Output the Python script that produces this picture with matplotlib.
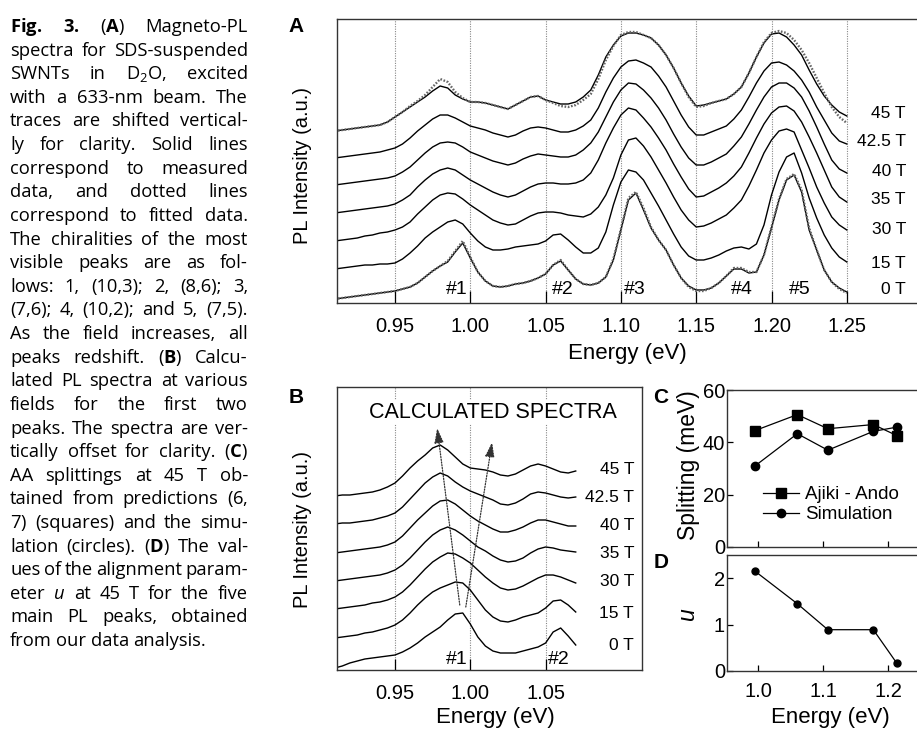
import numpy as np
import matplotlib
matplotlib.use('Agg')
import matplotlib.pyplot as plt

plt.rcParams['font.family'] = ['Liberation Sans', 'DejaVu Sans']
plt.rcParams['mathtext.fontset'] = 'custom'
plt.rcParams['mathtext.rm'] = 'Open Sans'
plt.rcParams['mathtext.it'] = 'Open Sans:italic'
plt.rcParams['mathtext.bf'] = 'Open Sans:bold'

# ---------------- data ----------------
# panel A: measured magneto-PL spectra (a.u., already shifted), energy grid in eV
energy_a = np.round(np.arange(0.910, 1.2501, 0.005), 3)
fields_a = ['45 T', '42.5 T', '40 T', '35 T', '30 T', '15 T', '0 T']
label_y_a = [190, 161, 132, 103, 74, 40, 13]

a_45T = [172,173,174,175,176,177,178,181,186, 191,196,201,206,212,217,215,208,204,
         201,201,200,198,196,194,198,202,206,207, 203,201,199,199,201,206,213,228,246,258,
         267,270,270,268,265,258,248,235,220,207, 197,198,200,202,204,209,216,230,246,260,
         269,270,266,258,248,233,219,207,198,191,187]
a_42T = [145,146,147,148,149,150,151,153,155, 159,165,172,178,184,188,188,185,181,
         177,175,173,170,168,166,168,172,175,176, 175,173,171,171,173,177,183,195,211,225,
         236,242,243,240,236,227,216,202,188,176, 168,168,171,174,177,184,193,206,220,232,
         240,241,238,232,223,211,196,183,170,162,159]
a_40T = [118,119,120,121,122,123,124,125,127, 131,136,143,150,156,160,161,160,156,
         151,148,145,142,140,138,140,144,147,149, 148,147,146,146,148,153,160,171,186,201,
         213,220,219,213,205,195,183,169,156,145, 138,138,141,145,149,157,166,179,193,206,
         216,220,220,215,206,192,176,159,143,134,130]
a_35T = [90,91,92,93,94,95,96,97,99, 103,108,116,123,129,133,135,133,128,
         123,119,115,111,108,106,108,112,116,119, 120,120,119,119,120,123,130,143,160,175,
         188,195,193,185,176,165,153,139,126,114, 106,107,111,115,120,127,136,150,165,179,
         190,196,197,192,181,166,150,133,116,106,101]
a_30T = [62,63,64,65,67,68,70,71,73, 76,81,89,96,103,108,110,109,104,
         98,93,88,83,80,78,79,83,87,90, 91,91,90,88,87,86,89,96,108,125,
         148,163,165,157,146,133,120,106,93,83, 76,77,80,84,88,95,103,117,133,150,
         163,172,174,171,153,135,116,100,86,78,73]
a_15T = [34,35,36,37,38,38,39,39,40, 44,50,57,65,71,76,81,83,79,
         70,62,56,53,53,54,56,57,58,59, 62,68,69,63,56,50,50,55,71,98,
         121,133,131,123,110,97,83,69,56,47, 43,43,45,48,52,55,56,54,59,78,
         108,131,146,150,130,105,85,68,55,46,41]
a_0T = [4,5,6,7,8,9,10,11,12, 14,16,20,26,32,37,41,51,60,
        45,31,22,17,16,17,19,20,22,25, 29,38,42,33,24,19,18,20,26,43,
        73,103,110,93,75,63,53,38,25,17, 13,13,15,20,27,34,34,30,31,48,
        75,103,123,128,111,73,53,33,21,15,11]
# fitted curves (dotted) for the outer traces
a_45T_fit = [172,173,174,175,176,177,178,181,186, 191,197,202,208,216,224,221,211,205,
             201,201,200,198,196,194,198,202,206,207, 203,200,197,196,198,203,209,224,243,257,
             268,271,271,268,265,258,248,235,220,206, 196,197,200,202,204,209,216,230,246,261,
             270,272,270,263,253,240,225,210,196,186,180]
a_0T_fit = [4,5,6,7,8,9,10,11,12, 14,16,20,26,32,37,42,52,62,
            46,31,22,17,16,17,19,20,22,25, 29,38,43,33,24,19,18,20,26,44,
            74,105,111,95,76,63,53,38,25,16, 12,12,15,20,27,35,35,31,31,48,
            76,104,124,129,113,75,53,33,21,14,10]
peak_names_a = ['#1', '#2', '#3', '#4', '#5']
peak_pos_a = [0.9912, 1.0616, 1.1094, 1.1804, 1.2189]

# panel B: calculated spectra
energy_b = np.round(np.arange(0.910, 1.0701, 0.005), 3)
label_y_b = [201, 172, 145, 117, 88, 57, 25]
b_45T = [174,175,175,176,177,178,180,183,187, 194,202,209,215,222,225,220,213,206,
         202,201,200,198,195,194,196,200,204,206, 204,201,198,197,199]
b_42T = [146,147,147,148,149,150,152,154,157, 163,171,179,187,193,197,194,188,183,
         179,176,173,170,166,165,167,171,176,178, 177,175,173,172,173]
b_40T = [117,118,119,120,121,122,123,125,128, 134,142,150,157,164,169,170,166,160,
         154,149,145,141,138,138,140,143,147,150, 150,148,146,144,144]
b_35T = [89,90,91,92,93,94,95,97,100, 105,112,120,128,135,140,143,140,135,
         129,123,119,114,110,108,109,112,117,121, 123,122,120,119,118]
b_30T = [61,62,63,64,65,67,68,70,73, 78,85,93,101,108,113,117,116,112,
         107,100,93,87,82,80,81,84,88,92, 95,95,93,90,87]
b_15T = [32,33,34,35,37,38,40,42,45, 50,57,65,72,78,82,85,88,87,
         80,70,60,53,49,48,50,53,55,57, 62,69,70,65,58]
b_0T = [2,4,7,9,11,12,13,14,15, 18,22,27,33,38,43,50,56,57,
        46,33,24,19,17,17,17,19,21,23, 27,38,42,34,25]

# panels C and D
energy_c = [0.995, 1.060, 1.107, 1.177, 1.213]
ajiki_ando = [44.5, 50.6, 45.2, 46.8, 42.6]
simulation = [31.0, 43.3, 37.0, 44.2, 45.8]
u_param = [2.15, 1.45, 0.89, 0.89, 0.17]

caption = [
    r"$\mathbf{Fig.}$ $\mathbf{3.}$ ($\mathbf{A}$) Magneto-PL",
    "spectra for SDS-suspended",
    r"SWNTs in D$_2$O, excited",
    "with a 633-nm beam. The",
    "traces are shifted vertical-",
    "ly for clarity. Solid lines",
    "correspond to measured",
    "data, and dotted lines",
    "correspond to fitted data.",
    "The chiralities of the most",
    "visible peaks are as fol-",
    "lows: 1, (10,3); 2, (8,6); 3,",
    "(7,6); 4, (10,2); and 5, (7,5).",
    "As the field increases, all",
    r"peaks redshift. ($\mathbf{B}$) Calcu-",
    "lated PL spectra at various",
    "fields for the first two",
    "peaks. The spectra are ver-",
    r"tically offset for clarity. ($\mathbf{C}$)",
    "AA splittings at 45 T ob-",
    r"tained from predictions ($\mathit{6}$,",
    r"$\mathit{7}$) (squares) and the simu-",
    r"lation (circles). ($\mathbf{D}$) The val-",
    "ues of the alignment param-",
    r"eter $\mathit{u}$ at 45 T for the five",
    "main PL peaks, obtained",
    "from our data analysis.",
]

# ---------------- figure ----------------
W, H = 917, 730
fig = plt.figure(figsize=(W / 100, H / 100), dpi=100)


def px_axes(l, t, r, b):
    return fig.add_axes([l / W, 1 - b / H, (r - l) / W, (b - t) / H])


def ftext(x, y, s, **kw):
    return fig.text(x / W, 1 - y / H, s, **kw)


def style_axes(ax):
    for sp in ax.spines.values():
        sp.set_color('#333333')
        sp.set_linewidth(1.0)


axA = px_axes(337, 19, 920, 303)
axB = px_axes(337, 387, 642, 670)
axC = px_axes(727, 390, 920, 547)
axD = px_axes(727, 555, 920, 671)

# --- A ---
for e in [0.95, 1.00, 1.05, 1.10, 1.15, 1.20, 1.25]:
    axA.axvline(e, color='#888888', lw=0.8, ls=(0, (1, 1.2)), zorder=0)
traces_a = [a_45T, a_42T, a_40T, a_35T, a_30T, a_15T, a_0T]
for vals in traces_a:
    axA.plot(energy_a, vals, color='black', lw=1.0)
axA.plot(energy_a, a_45T_fit, color='#666666', lw=1.7, ls=(0, (0.7, 0.7)))
axA.plot(energy_a, a_0T_fit, color='#666666', lw=1.7, ls=(0, (0.7, 0.7)))
for f, yv in zip(fields_a, label_y_a):
    axA.text(1.2893, yv, f, ha='right', va='center', fontsize=12.5)
for name, e in zip(peak_names_a, peak_pos_a):
    axA.text(e, 13, name, ha='center', va='center', fontsize=14)
axA.set_xlim(0.9115, 1.2986)
axA.set_ylim(0, 284)
axA.set_xticks([0.95, 1.00, 1.05, 1.10, 1.15, 1.20, 1.25])
axA.set_xticklabels(['0.95', '1.00', '1.05', '1.10', '1.15', '1.20', '1.25'])
axA.set_yticks([])
axA.tick_params(axis='x', direction='in', length=9, width=0.9, pad=10, labelsize=14.5)
style_axes(axA)

# --- B ---
for e in [0.95, 1.00, 1.05]:
    axB.axvline(e, color='#888888', lw=0.8, ls=(0, (1, 1.2)), zorder=0)
traces_b = [b_45T, b_42T, b_40T, b_35T, b_30T, b_15T, b_0T]
for vals in traces_b:
    axB.plot(energy_b, vals, color='black', lw=1.0)
for f, yv in zip(fields_a, label_y_b):
    axB.text(1.1087, yv, f, ha='right', va='center', fontsize=12.5)
axB.text(0.9912, 11, '#1', ha='center', va='center', fontsize=14)
axB.text(1.059, 11, '#2', ha='center', va='center', fontsize=14)
arrow_kw = dict(arrowstyle='-|>,head_length=0.9,head_width=0.28', color='#333333',
                lw=0.9, ls=(0, (1, 1.2)), shrinkA=0, shrinkB=0)
axB.annotate('', xy=(0.978, 242), xytext=(0.993, 65), arrowprops=arrow_kw)
axB.annotate('', xy=(1.0145, 228), xytext=(0.997, 63), arrowprops=arrow_kw)
ftext(493, 412, 'CALCULATED SPECTRA', ha='center', va='center', fontsize=15.5,
      bbox=dict(facecolor='white', edgecolor='none', pad=1), zorder=5)
axB.set_xlim(0.9115, 1.114)
axB.set_ylim(0, 283)
axB.set_xticks([0.95, 1.00, 1.05])
axB.set_xticklabels(['0.95', '1.00', '1.05'])
axB.set_yticks([])
axB.tick_params(axis='x', direction='in', length=8, width=0.9, pad=10, labelsize=14.5)
style_axes(axB)

# --- C ---
axC.plot(energy_c, ajiki_ando, '-s', color='black', ms=7.5, lw=0.9, label='Ajiki - Ando')
axC.plot(energy_c, simulation, '-o', color='black', ms=6, lw=0.9, label='Simulation')
axC.set_xlim(0.9518, 1.2488)
axC.set_ylim(0, 60)
axC.set_yticks([0, 20, 40, 60])
axC.set_xticks([1.0, 1.1, 1.2])
axC.tick_params(direction='in', length=4, width=0.9, labelbottom=False, pad=1.5, labelsize=14.5)
axC.legend(loc='center left', bbox_to_anchor=(0.14, 0.27), frameon=False,
           prop={'family': 'Liberation Sans', 'size': 13.5},
           handlelength=1.9, handletextpad=0.3, labelspacing=0.15, borderpad=0)
style_axes(axC)

# --- D ---
axD.plot(energy_c, u_param, '-o', color='black', ms=5, lw=0.9)
axD.set_xlim(0.9518, 1.2488)
axD.set_ylim(0, 2.5)
axD.set_yticks([0, 1, 2])
axD.set_xticks([1.0, 1.1, 1.2])
axD.set_xticklabels(['1.0', '1.1', '1.2'])
axD.tick_params(axis='y', direction='in', length=4, width=0.9, pad=1.5, labelsize=14.5)
axD.tick_params(axis='x', direction='in', length=4, width=0.9, pad=8, labelsize=14.5)
style_axes(axD)

# axis labels and panel letters
ftext(303, 165, 'PL Intensity (a.u.)', rotation=90, ha='center', va='center', fontsize=14.5)
ftext(303, 530, 'PL Intensity (a.u.)', rotation=90, ha='center', va='center', fontsize=14.5)
ftext(627, 354, 'Energy (eV)', ha='center', va='center', fontsize=16)
ftext(495, 717, 'Energy (eV)', ha='center', va='center', fontsize=16)
ftext(830, 717, 'Energy (eV)', ha='center', va='center', fontsize=16)
ftext(688, 465, 'Splitting (meV)', rotation=90, ha='center', va='center', fontsize=16.5)
ftext(688, 615, 'u', rotation=90, ha='center', va='center', fontsize=16.5, style='italic')
for letter, (x, y) in zip('ABCD', [(296, 26), (296, 397), (661, 397), (661, 562)]):
    ftext(x, y, letter, ha='center', va='center', fontsize=15, fontweight='bold')

# caption, justified by hand
renderer = fig.canvas.get_renderer()
x0, x1 = 10, 248
for i, line in enumerate(caption):
    yb = 32 + 23.62 * i
    words = line.split(' ')
    txts = [ftext(0, yb, w, fontsize=13.2, family='Open Sans', va='baseline', ha='left')
            for w in words]
    widths = [t.get_window_extent(renderer).width for t in txts]
    if i == len(caption) - 1:
        gap = 4.5
    else:
        gap = (x1 - x0 - sum(widths)) / (len(words) - 1)
    x = x0
    for t, w in zip(txts, widths):
        t.set_x(x / W)
        x += w + gap

fig.savefig('out.png', dpi=100)
